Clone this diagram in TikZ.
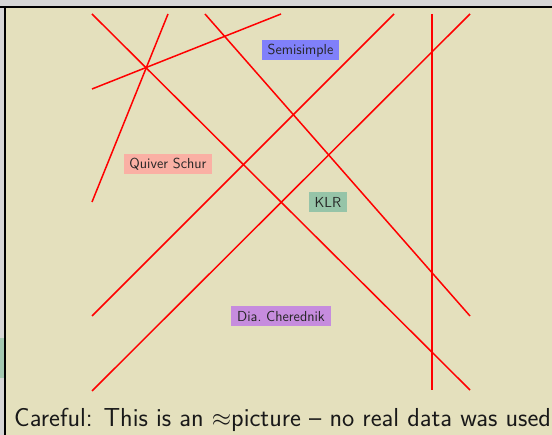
\documentclass[tikz,border=0pt]{standalone}
\usepackage{tikz}
\definecolor{beige}{RGB}{228,224,189}
\definecolor{frame}{RGB}{214,214,214}
\definecolor{semiblue}{RGB}{128,128,250}
\definecolor{quivred}{RGB}{250,176,164}
\definecolor{klrgreen}{RGB}{150,196,168}
\definecolor{chpurple}{RGB}{198,140,222}
\tikzset{
  redline/.style={draw=red, line width=1.5pt},
  lab/.style={inner sep=0pt, minimum height=20pt, font=\sffamily\fontsize{14.5}{17}\selectfont, text=black!85},
}
\begin{document}
\begin{tikzpicture}[x=1pt,y=-1pt]
\useasboundingbox (0,0) rectangle (552,435);
\fill[frame] (0,0) rectangle (552,435);
\fill[klrgreen!80!frame] (0,338) rectangle (5,378);
\fill[beige] (5,7) rectangle (552,435);
\draw[black, line width=1.3pt] (0,7) -- (552,7);
\draw[black, line width=1.1pt] (5,7) -- (5,435);
% lines
\coordinate (a1) at (92,14);  \coordinate (a2) at (470,390);
\coordinate (b1) at (205,14); \coordinate (b2) at (470,316);
\coordinate (c1) at (92,89);  \coordinate (c2) at (281,14);
\coordinate (d1) at (92,202); \coordinate (d2) at (168,14);
\coordinate (e1) at (92,316); \coordinate (e2) at (394,14);
\coordinate (f1) at (92,391); \coordinate (f2) at (470,14);
\coordinate (g1) at (432,14); \coordinate (g2) at (432,390);
\draw[redline] (a1) -- (a2);
\draw[redline] (b1) -- (b2);
\draw[redline] (c1) -- (c2);
\draw[redline] (d1) -- (d2);
\draw[redline] (e1) -- (e2);
\draw[redline] (f1) -- (f2);
\draw[redline] (g1) -- (g2);
% labels
\node[lab, fill=semiblue, minimum width=77pt] (semi) at (300.5,50.5) {Semisimple};
\node[lab, fill=quivred, minimum width=88pt] (quiv) at (168,164) {Quiver Schur};
\node[lab, fill=klrgreen, minimum width=38pt] (klr) at (328,202) {KLR};
\node[lab, fill=chpurple, minimum width=100pt] (cher) at (281,316) {Dia.\ Cherednik};
\node[anchor=base west, inner sep=0pt, font=\sffamily\fontsize{26}{30}\selectfont, text=black!90] (note) at (14,427) {Careful: This is an $\approx$picture -- no real data was used};
\end{tikzpicture}
\end{document}
